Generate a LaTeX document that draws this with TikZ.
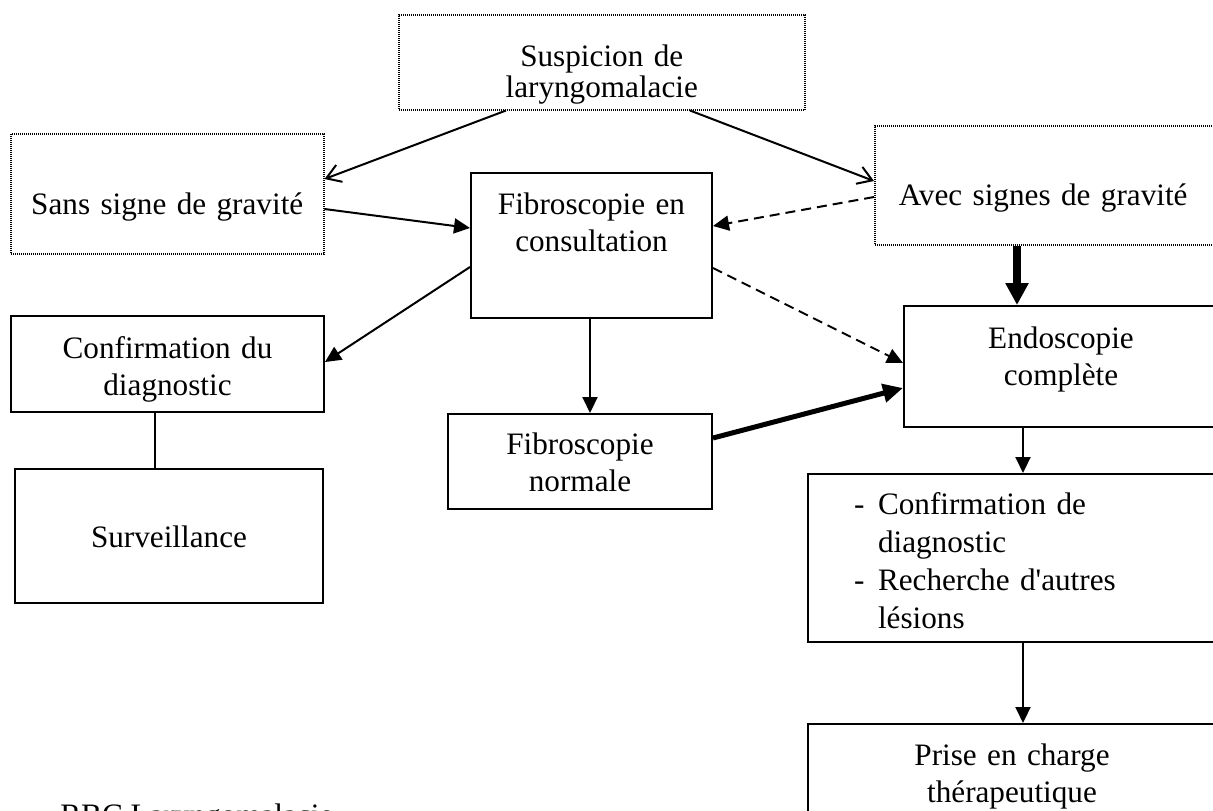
\documentclass[tikz,border=0pt]{standalone}
\usepackage{fontspec}
\setmainfont{Liberation Serif}
\usetikzlibrary{arrows.meta}

\begin{document}
\begin{tikzpicture}[x=0.5pt,y=-0.5pt,
      every node/.style={font=\fontsize{15.6}{18.5}\selectfont},
      box/.style={draw,line width=1pt,rectangle,anchor=north west,inner sep=0pt,align=center},
      dotbox/.style={box,line width=0.75pt,dash pattern=on 0.5pt off 0.5pt},
      link/.style={line width=1pt,-{Triangle[length=8pt,width=7.5pt]}},
      branch/.style={line width=1pt,-{Straight Barb[length=7pt,width=9pt]}},
      maybe/.style={link,dash pattern=on 5pt off 3pt},
      heavy/.style={line width=2.5pt,-{Triangle[length=10pt,width=9pt]}}]
      \useasboundingbox (0,0) rectangle (1213,810);
      \clip (0,0) rectangle (1213,810);
      \node[dotbox,text width=203pt,text height=25.75pt,text depth=21.75pt,font=\fontsize{15.6}{15.5}\selectfont] (susp) at (398,14) {Suspicion de\\laryngomalacie};
      \node[dotbox,text width=156.5pt,text height=40.5pt,text depth=19.5pt] (sans) at (10,133) {Sans signe de gravité};
      \node[dotbox,align=left,inner xsep=12pt,text width=150pt,text height=40pt,text depth=19.5pt] (avec) at (874,125) {Avec signes de gravité};
      \node[box,text width=120.5pt,text height=20.5pt,text depth=52pt] (fcons) at (470,172) {Fibroscopie en\\consultation};
      \node[box,text width=156.5pt,text height=21pt,text depth=27pt] (cdu) at (10,315) {Confirmation du\\diagnostic};
      \node[box,text width=154pt,text height=39.35pt,text depth=27.65pt] (surv) at (14,468) {Surveillance};
      \node[box,text width=132pt,text height=20.15pt,text depth=27.35pt] (fnorm) at (447,413) {Fibroscopie\\normale};
      \node[box,text width=157pt,text height=21.35pt,text depth=39.15pt] (endo) at (903,305) {Endoscopie\\complète};
      \node[box,align=left,inner xsep=23pt,text width=161.5pt,text height=20.15pt,text depth=63.85pt,font=\fontsize{15.6}{19}\selectfont] (conf) at (807,473)
        {\makebox[12pt][l]{-}Confirmation de\\\hspace*{12pt}diagnostic\\\makebox[12pt][l]{-}Recherche d\textquotesingle autres\\\hspace*{12pt}lésions};
      \node[box,text width=204pt,text height=20.65pt,text depth=37.85pt] (prise) at (807,723) {Prise en charge\\thérapeutique};
      \node[anchor=base west,inner sep=0pt] (rbc) at (60,825) {RBC Laryngomalacie};
      \draw[branch] ([xshift=54pt]susp.south west) -- ([yshift=-23pt]sans.north east);
      \draw[branch] ([xshift=146pt]susp.south west) -- ([yshift=-28pt]avec.north west);
      \draw[link] ([yshift=-38pt]sans.north east) -- ([yshift=-28pt]fcons.north west);
      \draw[maybe] ([yshift=-36pt]avec.north west) -- ([yshift=-27pt]fcons.north east);
      \draw[link] ([yshift=-47.5pt]fcons.north west) -- ([yshift=-23.5pt]cdu.north east);
      \draw[link] ([xshift=60pt]fcons.south west) -- ([xshift=71.5pt]fnorm.north west);
      \draw[maybe] ([yshift=-48pt]fcons.north east) -- ([yshift=-29pt]endo.north west);
      \draw[heavy] ([yshift=-12.5pt]fnorm.north east) -- ([yshift=-41.5pt]endo.north west);
      \draw[heavy,line width=4pt,-{Triangle[length=11pt,width=11pt]}] ([xshift=71.5pt]avec.south west) -- ([xshift=57pt]endo.north west);
      \draw[line width=1pt] ([xshift=72.5pt]cdu.south west) -- ([xshift=70.5pt]surv.north west);
      \draw[link] ([xshift=60pt]endo.south west) -- ([xshift=108pt]conf.north west);
      \draw[link] ([xshift=108pt]conf.south west) -- ([xshift=108pt]prise.north west);
\end{tikzpicture}
\end{document}
